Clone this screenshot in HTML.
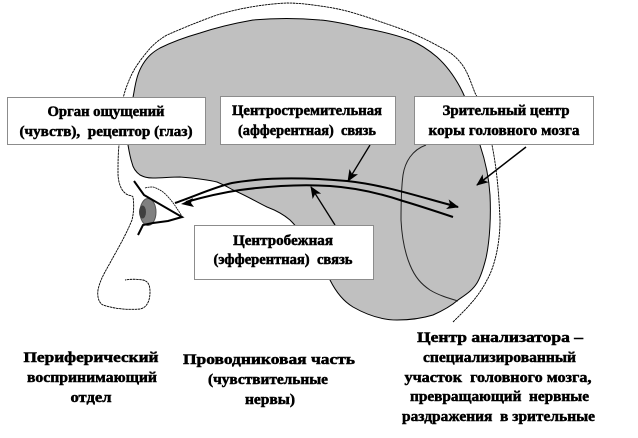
<!DOCTYPE html>
<html><head><meta charset="utf-8"><style>
html,body{margin:0;padding:0;background:#fff;width:638px;height:438px;overflow:hidden}
svg{display:block}
text{font-family:"Liberation Serif",serif;font-size:15px;font-weight:bold;fill:#000;text-anchor:middle;stroke:#000;stroke-width:.5}
</style></head><body>
<svg width="638" height="438" viewBox="0 0 638 438" xmlns="http://www.w3.org/2000/svg">
<defs>
<marker id="a" markerWidth="12" markerHeight="10" refX="11" refY="5" orient="auto" markerUnits="userSpaceOnUse"><path d="M0 0L12 5L0 10L3 5Z" fill="#000"/></marker>
</defs>
<!-- head outline -->
<path d="M453 322C465 310 478 298 487 280C494 268 500 245 500 220C499 195 497 170 492 145C487 122 482 105 475 93C470 80 467 70 460 62C455 56 450 52 440 47C420 36 405 30 387 24C370 18 350 11 333 8C315 5 300 3 287 3C265 4 240 8 217 15C200 21 183 28 167 35C155 42 150 48 143 57C135 67 131 75 128 83C125 90 122 100 121 112C119 125 119 135 119 145C118 155 118 165 118 173C118 182 121 190 125 193C128 196 132 195 133 197C134 203 134 212 132 220C125 237 117 250 110 263C105 272 100 280 98 290C97 297 99 303 103 305C115 309 128 310 140 309C146 308 150 302 150 292C150 285 148 281 143 280C137 279 130 279 125 280" fill="none" stroke="#000" stroke-width=".9" stroke-dasharray="2.5 .6"/>
<!-- brain -->
<path d="M128 145C128 125 131 108 134 92C136 80 138 72 143 64C148 56 153 52 160 48C172 42 186 37 200 33C218 27 236 23 253 20C275 18 298 18 320 20C335 21 350 25 363 28C380 31 396 35 410 40C422 45 430 51 437 57C447 66 454 76 460 87C467 100 475 122 480 145C485 160 489 178 490 195C491 215 490 240 486 258C483 270 480 278 477 283C472 291 465 295 458 300C450 307 442 311 433 315C420 319 408 320 397 320C382 320 367 315 353 307C343 301 336 292 330 280C322 262 305 235 290 220C283 214 275 210 267 207C255 201 245 195 233 190C228 187 222 184 217 182C205 179 192 178 180 177C171 177 162 178 153 178C147 178 144 177 140 175C136 172 133 168 132 163C130 157 129 151 128 145Z" fill="#c0c0c0" stroke="#000" stroke-width="1"/>
<!-- inner region -->
<path d="M426 145C412 150 405 162 403 175C401 190 401 205 401 220C402 240 405 253 410 265C415 277 421 284 430 290C438 295 448 298 458 301" fill="none" stroke="#222" stroke-width="1"/>
<!-- eye -->
<path d="M145 188C148 187 151 187 153 187C157 188 160 190 163 192C170 198 175 205 183 218" fill="none" stroke="#000" stroke-width=".8" stroke-dasharray="2 .6"/>
<ellipse cx="148" cy="212" rx="8" ry="13.5" fill="#808080" stroke="#555"/>
<ellipse cx="142.500" cy="212" rx="3.500" ry="6.500" fill="#404040"/>
<path d="M134 181L144 195L182 217L168 221L153 223L143 225L138 235" fill="none" stroke="#000" stroke-width="2"/>
<!-- nerves -->
<path d="M175 203C195 196 215 187 232 183C260 178 300 177 347 181C385 185 420 197 458 207" fill="none" stroke="#000" stroke-width="2" marker-end="url(#a)"/>
<path d="M186 202C200 198 220 193 240 190C270 186 300 184 330 186C360 188 385 195 403 201C420 206 438 212 453 217" fill="none" stroke="#000" stroke-width="2"/>
<path d="M181 204L193 198L191 203L194 207Z" fill="#000"/>
<!-- pointers -->
<line x1="370" y1="145" x2="348" y2="181" stroke="#000" stroke-width="1.300" marker-end="url(#a)"/>
<line x1="526" y1="147" x2="477" y2="185" stroke="#000" stroke-width="1.500" marker-end="url(#a)"/>
<line x1="335" y1="225" x2="311" y2="187" stroke="#000" stroke-width="1.300" marker-end="url(#a)"/>
<!-- boxes -->
<rect x="7.500" y="97.500" width="198" height="47" fill="#fff" stroke="#8c8c8c"/>
<rect x="220.500" y="96.500" width="175" height="48" fill="#fff" stroke="#8c8c8c"/>
<rect x="414.500" y="96.500" width="179" height="48" fill="#fff" stroke="#8c8c8c"/>
<rect x="194.500" y="225.500" width="179" height="54" fill="#fff" stroke="#8c8c8c"/>
<!-- box labels -->
<text x="106" y="116" textLength="117" lengthAdjust="spacingAndGlyphs">Орган ощущений</text>
<text x="106" y="136" textLength="173" lengthAdjust="spacingAndGlyphs" xml:space="preserve">(чувств),  рецептор (глаз)</text>
<text x="307" y="115" textLength="150" lengthAdjust="spacingAndGlyphs">Центростремительная</text>
<text x="307" y="135" textLength="138" lengthAdjust="spacingAndGlyphs" xml:space="preserve">(афферентная)  связь</text>
<text x="506" y="115" textLength="127" lengthAdjust="spacingAndGlyphs">Зрительный центр</text>
<text x="504" y="135" textLength="151" lengthAdjust="spacingAndGlyphs">коры головного мозга</text>
<text x="283" y="245" textLength="100" lengthAdjust="spacingAndGlyphs">Центробежная</text>
<text x="283" y="264" textLength="139" lengthAdjust="spacingAndGlyphs" xml:space="preserve">(эфферентная)  связь</text>
<!-- bottom labels -->
<text x="91" y="362" textLength="135" lengthAdjust="spacingAndGlyphs">Периферический</text>
<text x="92" y="382" textLength="130" lengthAdjust="spacingAndGlyphs">воспринимающий</text>
<text x="91" y="402" textLength="41" lengthAdjust="spacingAndGlyphs">отдел</text>
<text x="269" y="364" textLength="172" lengthAdjust="spacingAndGlyphs">Проводниковая часть</text>
<text x="268" y="384" textLength="120" lengthAdjust="spacingAndGlyphs">(чувствительные</text>
<text x="270" y="404" textLength="50" lengthAdjust="spacingAndGlyphs">нервы)</text>
<text x="500" y="342" textLength="166" lengthAdjust="spacingAndGlyphs">Центр анализатора –</text>
<text x="499.500" y="362" textLength="153" lengthAdjust="spacingAndGlyphs">специализированный</text>
<text x="498" y="382" textLength="187" lengthAdjust="spacingAndGlyphs" xml:space="preserve">участок  головного мозга,</text>
<text x="499.500" y="401" textLength="179" lengthAdjust="spacingAndGlyphs" xml:space="preserve">превращающий  нервные</text>
<text x="498.500" y="421" textLength="193" lengthAdjust="spacingAndGlyphs" xml:space="preserve">раздражения  в зрительные</text>
</svg>
</body></html>
